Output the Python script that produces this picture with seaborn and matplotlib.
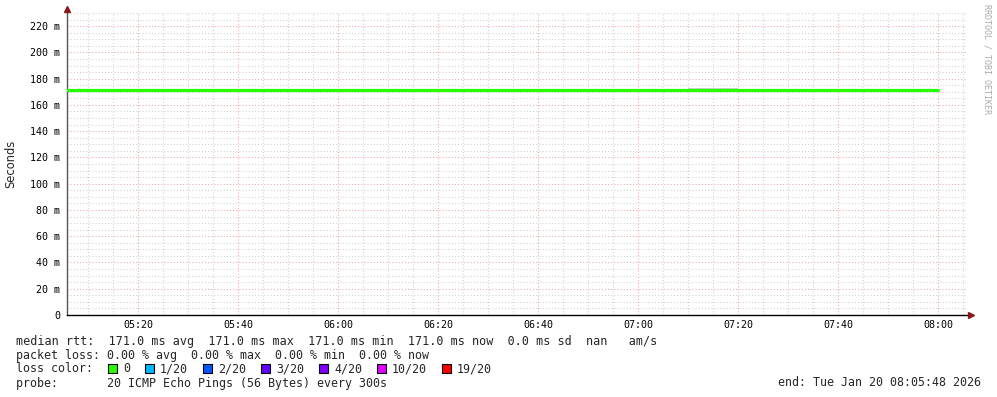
import matplotlib
matplotlib.use('Agg')
import matplotlib.pyplot as plt
import matplotlib.dates as mdates
import matplotlib.ticker as mticker
from matplotlib.patches import Rectangle
import pandas as pd
import seaborn as sns

# ---------------- data ----------------
step_times = ['05:05', '05:10', '05:15', '05:20', '05:25', '05:30', '05:35', '05:40', '05:45',
              '05:50', '05:55', '06:00', '06:05', '06:10', '06:15', '06:20', '06:25', '06:30',
              '06:35', '06:40', '06:45', '06:50', '06:55', '07:00', '07:05', '07:10', '07:15',
              '07:20', '07:25', '07:30', '07:35', '07:40', '07:45', '07:50', '07:55', '08:00']
median_ms = [171.0, 171.0, 171.0, 171.0, 171.0, 171.0, 171.0, 171.0, 171.0,
             171.0, 171.0, 171.0, 171.0, 171.0, 171.0, 171.0, 171.0, 171.0,
             171.0, 171.0, 171.0, 171.0, 171.0, 171.0, 171.0, 171.0, 171.0,
             171.0, 171.0, 171.0, 171.0, 171.0, 171.0, 171.0, 171.0, 171.0]
smoke_max_ms = [171.0, 171.0, 171.0, 171.0, 171.0, 171.0, 171.0, 171.0, 171.0,
                171.0, 171.0, 171.0, 171.0, 171.0, 171.0, 171.0, 171.0, 171.0,
                171.0, 171.0, 171.0, 171.0, 171.0, 171.0, 171.0, 171.0, 173.2,
                173.2, 171.0, 171.0, 171.0, 171.0, 171.0, 171.0, 171.0, 171.0]
loss_labels = ['0', '1/20', '2/20', '3/20', '4/20', '10/20', '19/20']
loss_colors = ['#26ff00', '#00b8ff', '#0059ff', '#5e00ff', '#7e00ff', '#dd00ff', '#ff0000']
legend_lines = [
    'median rtt:  171.0 ms avg  171.0 ms max  171.0 ms min  171.0 ms now  0.0 ms sd  nan   am/s',
    'packet loss: 0.00 % avg  0.00 % max  0.00 % min  0.00 % now',
    'loss color:',
    'probe:       20 ICMP Echo Pings (56 Bytes) every 300s',
]
end_text = 'end: Tue Jan 20 08:05:48 2026'
x_start = '2026-01-20 05:05:48'
x_end = '2026-01-20 08:05:48'

df = pd.DataFrame({
    'time': pd.to_datetime(['2026-01-20 ' + t for t in step_times]),
    'median': median_ms,
    'smax': smoke_max_ms,
})

# ---------------- style ----------------
sns.set_style('white')
plt.rcParams['font.family'] = ['DejaVu Sans Mono', 'DejaVu Sans']

W, H = 997, 397
fig = plt.figure(figsize=(W / 100, H / 100), dpi=100)
L, R, T, B = 67, 967, 13, 315
ax = fig.add_axes([L / W, 1 - B / H, (R - L) / W, (B - T) / H])

ax.fill_between(df['time'], df['median'], df['smax'], step='pre', color='#cfcfcf', lw=0, zorder=2)
sns.lineplot(data=df, x='time', y='median', ax=ax, color='#26ff00', lw=2.3,
             drawstyle='steps-pre', zorder=3, estimator=None)

ax.set_xlim(pd.Timestamp(x_start), pd.Timestamp(x_end))
ax.set_ylim(0, 230)

ax.yaxis.set_major_locator(mticker.MultipleLocator(20))
ax.yaxis.set_minor_locator(mticker.MultipleLocator(5))
ax.yaxis.set_major_formatter(mticker.FuncFormatter(lambda v, p: '0' if v == 0 else f'{int(v)} m'))
ax.xaxis.set_major_locator(mdates.MinuteLocator(byminute=[0, 20, 40]))
ax.xaxis.set_minor_locator(mdates.MinuteLocator(byminute=range(0, 60, 5)))
ax.xaxis.set_major_formatter(mdates.DateFormatter('%H:%M'))

ax.grid(which='minor', color='#d0d0d0', linestyle=(0, (1, 2)), lw=0.75)
ax.grid(which='major', color='#eaa8a8', linestyle=(0, (1, 2)), lw=0.75)
ax.set_axisbelow(True)

ax.tick_params(axis='both', which='both', length=0, labelsize=7.2, colors='black')
ax.tick_params(axis='y', pad=5)
ax.tick_params(axis='x', pad=3.5)
ax.set_xlabel('')
ax.set_ylabel('')

for s in ['top', 'right']:
    ax.spines[s].set_visible(False)
ax.spines['left'].set_color('#555555')
ax.spines['left'].set_linewidth(1.0)
ax.spines['bottom'].set_color('black')
ax.spines['bottom'].set_linewidth(1.0)

# arrows
ax.plot([0], [1 + 4 / (B - T)], marker='^', ms=4.5, color='#8b1a1a', transform=ax.transAxes,
        clip_on=False, mec='#8b1a1a')
ax.plot([1 + 4 / (R - L)], [0], marker='>', ms=4.5, color='#8b1a1a', transform=ax.transAxes,
        clip_on=False, mec='#8b1a1a')

# y label
fig.text(11 / W, 1 - 164 / H, 'Seconds', rotation=90, ha='center', va='center',
         fontsize=8.3, family=['DejaVu Sans'])
# watermark
fig.text(987 / W, 1 - 4 / H, 'RRDTOOL / TOBI OETIKER', rotation=270, ha='center', va='top',
         fontsize=6, color='#aaaaaa')

# legend text
ys = [341, 355, 369, 383]
sizes = [8.5, 8.4, 8.4, 8.4]
for y, line, fs in zip(ys, legend_lines, sizes):
    fig.text(16 / W, 1 - y / H, line, ha='left', va='center', fontsize=fs)
fig.text(981 / W, 1 - 383 / H, end_text, ha='right', va='center', fontsize=8.4)

sq_x = [108, 145, 203, 261, 319, 377, 442]
for x, lab, col in zip(sq_x, loss_labels, loss_colors):
    fig.patches.append(Rectangle((x / W, 1 - 373 / H), 9 / W, 9 / H, transform=fig.transFigure,
                                 facecolor=col, edgecolor='black', lw=0.8))
    fig.text((x + 15) / W, 1 - 369 / H, lab, ha='left', va='center', fontsize=8.4)

fig.savefig('out.png', dpi=100, facecolor='white')
